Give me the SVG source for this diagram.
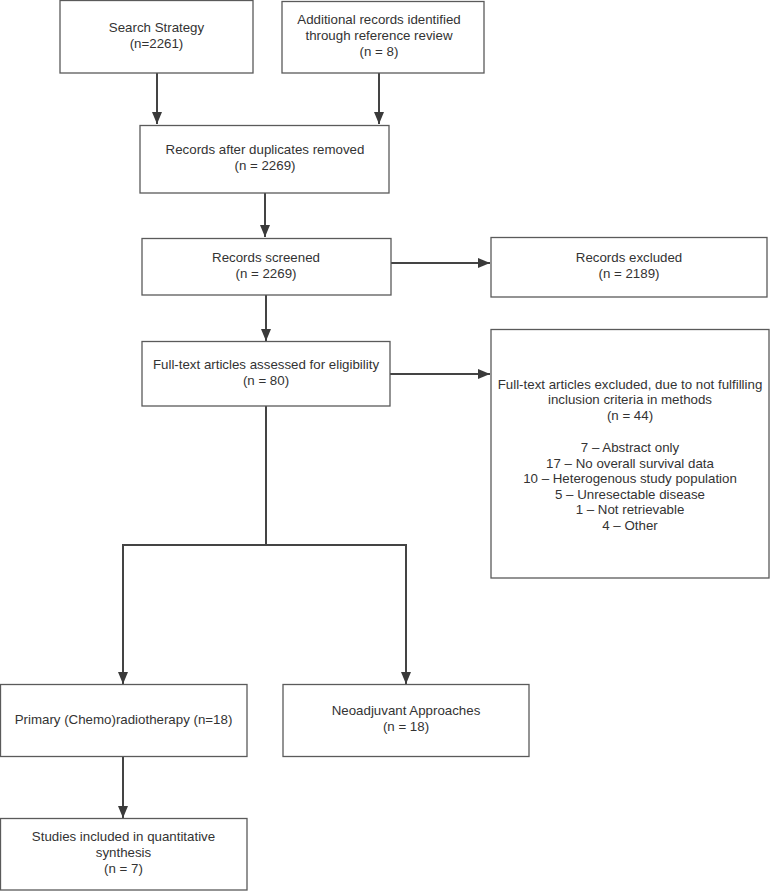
<svg xmlns="http://www.w3.org/2000/svg" width="770" height="891" viewBox="0 0 770 891">
<style>
.box{fill:#fff;stroke:#5a5a5a;stroke-width:1.3}
.t{font-family:"Liberation Sans",Arial,sans-serif;font-size:13.3px;fill:#333;text-anchor:middle}
.c{fill:none;stroke:#444;stroke-width:2}
</style>
<defs>
<marker id="ah" markerWidth="12" markerHeight="12" viewBox="0 0 12 12" refX="12" refY="6" orient="auto" markerUnits="userSpaceOnUse">
<path d="M0,1 L12,6 L0,11 Z" fill="#3a3a3a"/>
</marker>
</defs>
<rect width="770" height="891" fill="#fff"/>
<g id="connectors">
<path class="c" d="M157,73 V124" marker-end="url(#ah)"/>
<path class="c" d="M379,73 V124" marker-end="url(#ah)"/>
<path class="c" d="M265,193 V237" marker-end="url(#ah)"/>
<path class="c" d="M391,263 H490" marker-end="url(#ah)"/>
<path class="c" d="M266,295 V341" marker-end="url(#ah)"/>
<path class="c" d="M390,374 H490" marker-end="url(#ah)"/>
<path class="c" d="M266,406 V545 M123,545 H406"/>
<path class="c" d="M123,544 V684" marker-end="url(#ah)"/>
<path class="c" d="M406,544 V684" marker-end="url(#ah)"/>
<path class="c" d="M123,756 V818" marker-end="url(#ah)"/>
</g>
<g id="search">
<rect class="box" x="60" y="0.5" width="193" height="72.5"/>
<text class="t" x="156.5" y="32">Search Strategy</text>
<text class="t" x="156.5" y="48">(n=2261)</text>
</g>
<g id="additional">
<rect class="box" x="282" y="1.5" width="202" height="71.5"/>
<text class="t" x="379" y="24">Additional records identified</text>
<text class="t" x="379" y="40">through reference review</text>
<text class="t" x="379" y="56">(n = 8)</text>
</g>
<g id="duplicates">
<rect class="box" x="140" y="125.5" width="249" height="67.5"/>
<text class="t" x="265" y="154">Records after duplicates removed</text>
<text class="t" x="265" y="170">(n = 2269)</text>
</g>
<g id="screened">
<rect class="box" x="142" y="238.5" width="249" height="56.5"/>
<text class="t" x="266" y="262">Records screened</text>
<text class="t" x="266" y="278">(n = 2269)</text>
</g>
<g id="excluded">
<rect class="box" x="491" y="237.5" width="276" height="59.5"/>
<text class="t" x="629" y="262">Records excluded</text>
<text class="t" x="629" y="278">(n = 2189)</text>
</g>
<g id="fulltext">
<rect class="box" x="142" y="341.5" width="248" height="64.5"/>
<text class="t" x="266" y="369">Full-text articles assessed for eligibility</text>
<text class="t" x="266" y="385">(n = 80)</text>
</g>
<g id="fulltext-excluded">
<rect class="box" x="491" y="329.5" width="278" height="248.5"/>
<text class="t" x="630" y="388.5">Full-text articles excluded, due to not fulfilling</text>
<text class="t" x="630" y="404">inclusion criteria in methods</text>
<text class="t" x="630" y="419.5">(n = 44)</text>
<text class="t" x="630" y="452">7 – Abstract only</text>
<text class="t" x="630" y="467.5">17 – No overall survival data</text>
<text class="t" x="630" y="483">10 – Heterogenous study population</text>
<text class="t" x="630" y="498.5">5 – Unresectable disease</text>
<text class="t" x="630" y="514">1 – Not retrievable</text>
<text class="t" x="630" y="529.5">4 – Other</text>
</g>
<g id="primary">
<rect class="box" x="0.5" y="684.5" width="246.5" height="72"/>
<text class="t" x="123.5" y="723.5">Primary (Chemo)radiotherapy (n=18)</text>
</g>
<g id="neoadjuvant">
<rect class="box" x="283" y="684.5" width="246" height="72"/>
<text class="t" x="406" y="715">Neoadjuvant Approaches</text>
<text class="t" x="406" y="731">(n = 18)</text>
</g>
<g id="studies">
<rect class="box" x="0.5" y="818.5" width="246.5" height="71.5"/>
<text class="t" x="123.5" y="841">Studies included in quantitative</text>
<text class="t" x="123.5" y="857">synthesis</text>
<text class="t" x="123.5" y="873">(n = 7)</text>
</g>
</svg>
